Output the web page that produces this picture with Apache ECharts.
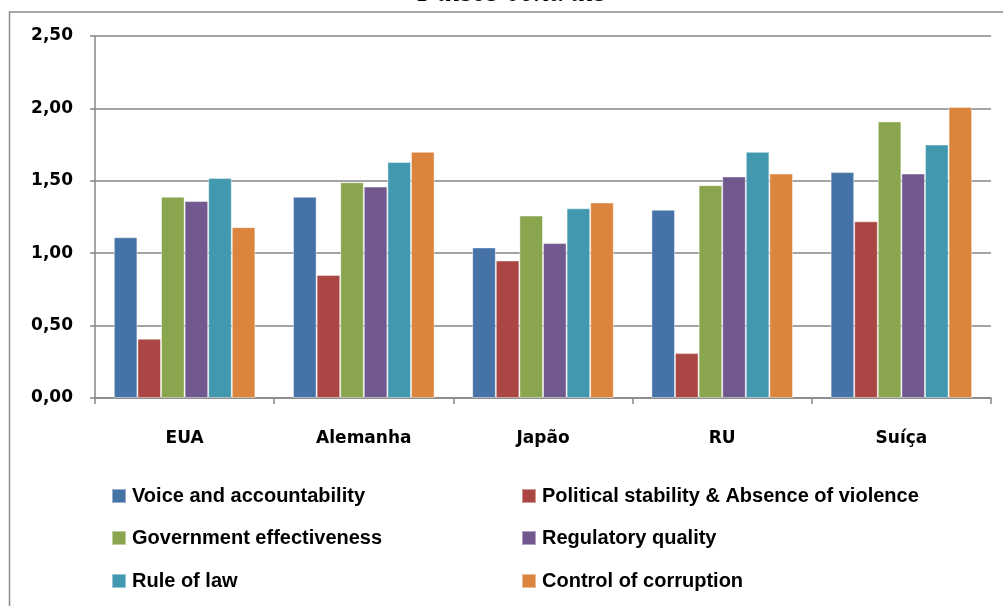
<!DOCTYPE html>
<html><head><meta charset="utf-8">
<script src="https://cdn.jsdelivr.net/npm/echarts@6/dist/echarts.min.js"></script>
<style>html,body{margin:0;padding:0;background:#fff}#c{width:1003px;height:606px}</style>
</head><body><div id="c"></div>
<script>
const categories = ['EUA', 'Alemanha', 'Japão', 'RU', 'Suíça'];
const seriesNames = ['Voice and accountability', 'Political stability & Absence of violence', 'Government effectiveness', 'Regulatory quality', 'Rule of law', 'Control of corruption'];
const voice = [1.11, 1.39, 1.04, 1.30, 1.56];
const political = [0.41, 0.85, 0.95, 0.31, 1.22];
const government = [1.39, 1.49, 1.26, 1.47, 1.91];
const regulatory = [1.36, 1.46, 1.07, 1.53, 1.55];
const ruleOfLaw = [1.52, 1.63, 1.31, 1.70, 1.75];
const corruption = [1.18, 1.70, 1.35, 1.55, 2.01];
const yTicks = [0, 0.5, 1.0, 1.5, 2.0, 2.5];
const title = 'Países centrais';

const colors = ['#4572A7', '#AA4643', '#89A54E', '#71588F', '#4198AF', '#DB843D'];
const values = [voice, political, government, regulatory, ruleOfLaw, corruption];
const legendFont = '"Liberation Sans", Arial, sans-serif';
const axisFont = '"DejaVu Sans", Verdana, sans-serif';

const legendPos = [[111, 485], [521, 485], [111, 527], [521, 527], [111, 570], [521, 570]];
const legends = seriesNames.map((n, i) => ({
  data: [n], left: legendPos[i][0], top: legendPos[i][1], itemWidth: 14, itemHeight: 14,
  icon: 'rect', itemGap: 0, padding: 0, selectedMode: false,
  textStyle: { fontFamily: legendFont, fontWeight: 'bold', fontSize: 20, lineHeight: 22, color: '#000', padding: [0, 0, 0, 1] }
}));

const chart = echarts.init(document.getElementById('c'), null, { renderer: 'canvas' });
chart.setOption({
  animation: false,
  color: colors,
  graphic: [
    { type: 'rect', shape: { x: 9.5, y: 12, width: 1010, height: 610 }, style: { fill: 'none', stroke: '#8c8c8c', lineWidth: 1.5 }, silent: true, z: -1 },
    { type: 'text', x: 512, y: -7, silent: true, style: { text: title, align: 'center', verticalAlign: 'middle',
      font: 'italic 31px "Liberation Serif", "Times New Roman", serif', fill: '#000' } }
  ],
  grid: { left: 95, right: 12, top: 36, bottom: 208 },
  legend: legends,
  xAxis: {
    type: 'category', data: categories,
    axisLine: { lineStyle: { color: '#868686', width: 1.5 } },
    axisTick: { show: true, length: 6, lineStyle: { color: '#868686', width: 1.5 } },
    axisLabel: { margin: 32, fontFamily: axisFont, fontWeight: 'bold', fontSize: 17, color: '#000' }
  },
  yAxis: {
    type: 'value', min: 0, max: 2.5, interval: 0.5,
    axisLine: { show: true, lineStyle: { color: '#868686', width: 1.5 } },
    axisTick: { show: true, length: 5, lineStyle: { color: '#868686', width: 1.5 } },
    splitLine: { lineStyle: { color: '#868686', width: 1.5 } },
    axisLabel: { margin: 22, fontFamily: axisFont, fontWeight: 'bold', fontSize: 17, color: '#000',
      formatter: v => v.toFixed(2).replace('.', ',') }
  },
  series: seriesNames.map((n, i) => ({
    name: n, type: 'bar', data: values[i], barGap: '0%', barCategoryGap: '21%',
    itemStyle: { color: colors[i], borderColor: 'rgba(255,255,255,0.45)', borderWidth: 1 }
  }))
});
</script></body></html>
